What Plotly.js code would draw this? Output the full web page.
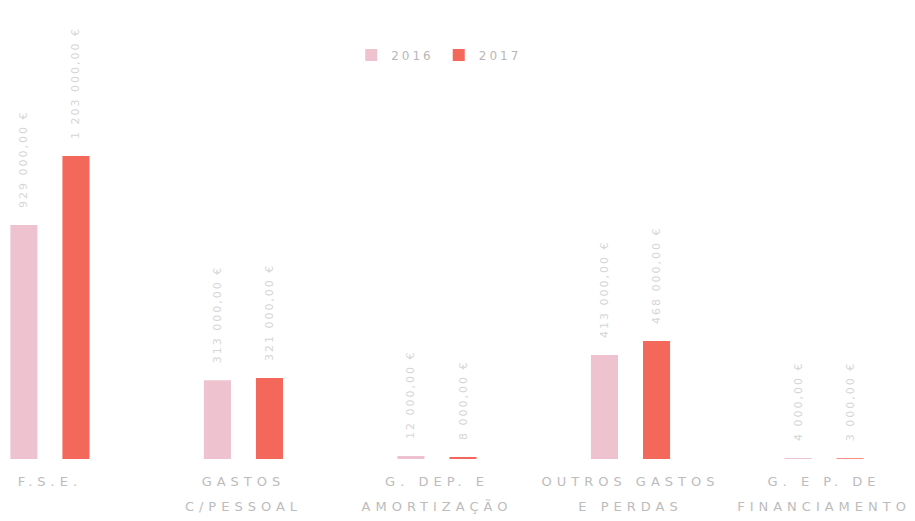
<!DOCTYPE html>
<html>
<head>
<meta charset="utf-8">
<script src="https://cdn.plot.ly/plotly-3.0.1.min.js"></script>
<style>
  html, body { margin: 0; padding: 0; background: #fff; }
  #chart { width: 915px; height: 521px; }
  .xtick text { letter-spacing: 5px; }
  .legendtext { letter-spacing: 3px; }
  .bartext { letter-spacing: 2px; }
</style>
</head>
<body>
<div id="chart"></div>
<script>
const categories = ["F.S.E.", "GASTOS<br>C/PESSOAL", "G. DEP. E<br>AMORTIZAÇÃO", "OUTROS GASTOS<br>E PERDAS", "G. E P. DE<br>FINANCIAMENTO"];
const values2016 = [929000, 313000, 12000, 413000, 4000];
const values2017 = [1203000, 321000, 8000, 468000, 3000];
const seriesNames = ["2016", "2017"];
const seriesColors = ["#eec3cf", "#f4675b"];

const idx = categories.map((c, i) => i);

const common = {
  type: "bar",
  x: idx,
  texttemplate: "%{y:,.2f} €",
  textposition: "outside",
  textangle: -90,
  constraintext: "none",
  cliponaxis: false,
  textfont: { family: "DejaVu Sans", size: 11, color: "#d6d6d6" },
  hoverinfo: "none"
};

const data = [
  Object.assign({}, common, { name: seriesNames[0], y: values2016, marker: { color: seriesColors[0] } }),
  Object.assign({}, common, { name: seriesNames[1], y: values2017, marker: { color: seriesColors[1] } })
];

const layout = {
  width: 915,
  height: 521,
  margin: { l: 0, r: 0, t: 10, b: 62 },
  paper_bgcolor: "#ffffff",
  plot_bgcolor: "#ffffff",
  separators: ", ",
  barmode: "group",
  bargap: 0.462,
  bargroupgap: 0.48,
  showlegend: true,
  legend: {
    orientation: "h",
    x: 0.48, xanchor: "center",
    y: 0.9, yanchor: "middle",
    font: { family: "DejaVu Sans", size: 12, color: "#b8b8b8" },
    itemwidth: 30
  },
  xaxis: {
    type: "linear",
    range: [-0.258, 4.47],
    tickmode: "array",
    tickvals: idx,
    ticktext: categories,
    showgrid: false,
    zeroline: false,
    showline: false,
    ticks: "",
    ticklabelstandoff: 13,
    tickfont: { family: "DejaVu Sans", size: 13, color: "#bcbcbc" }
  },
  yaxis: {
    range: [0, 1782000],
    showgrid: false,
    zeroline: false,
    showline: false,
    showticklabels: false,
    ticks: ""
  }
};

Plotly.newPlot("chart", data, layout, { staticPlot: true, displayModeBar: false }).then(function () {
  document.querySelectorAll(".xtick text tspan.line").forEach(function (t) {
    const dy = t.getAttribute("dy");
    if (dy && dy !== "0em" && dy !== "0") t.setAttribute("dy", "25px");
  });
  document.querySelectorAll("text.bartext").forEach(function (t) {
    const tr = t.getAttribute("transform") || "";
    t.setAttribute("transform", "translate(0,-14) " + tr);
  });
});
</script>
</body>
</html>
